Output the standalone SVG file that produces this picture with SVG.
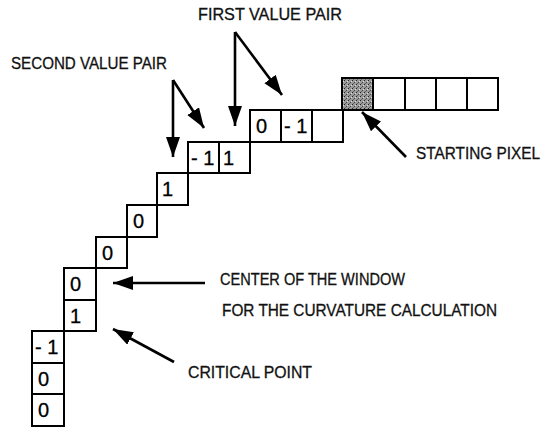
<svg xmlns="http://www.w3.org/2000/svg" width="546" height="429" viewBox="0 0 546 429">
<style>
.cell{fill:#fff;stroke:#000;stroke-width:2}
.shade{stroke:#000;stroke-width:2}
.num{font-family:"Liberation Sans",Arial,sans-serif;font-size:20px;fill:#000;stroke:#000;stroke-width:0.3}
.lbl{font-family:"Liberation Sans",Arial,sans-serif;font-size:16px;fill:#111;stroke:#111;stroke-width:0.3}
.arr{stroke:#000;stroke-width:2.6;fill:none;marker-end:url(#ah)}
</style>
<defs>
<marker id="ah" markerUnits="userSpaceOnUse" markerWidth="22" markerHeight="16" refX="20" refY="7" orient="auto">
<path d="M0,0 L20,7 L0,14 z" fill="#000"/>
</marker>
<pattern id="dots" width="4" height="4" patternUnits="userSpaceOnUse">
<rect width="4" height="4" fill="#9a9a9a"/>
<rect x="0" y="0" width="1" height="1" fill="#222"/>
<rect x="2" y="2" width="1" height="1" fill="#444"/>
<rect x="3" y="1" width="1" height="1" fill="#ddd"/>
<rect x="1" y="3" width="1" height="1" fill="#666"/>
</pattern>
</defs>
<g id="start-row">
<rect class="shade" x="342" y="78" width="31" height="32" fill="url(#dots)"/>
<rect class="cell" x="373" y="78" width="32" height="32"/>
<rect class="cell" x="405" y="78" width="31" height="32"/>
<rect class="cell" x="436" y="78" width="31" height="32"/>
<rect class="cell" x="467" y="78" width="31" height="32"/>
</g>
<g id="row1">
<rect class="cell" x="250" y="110" width="31" height="32"/>
<rect class="cell" x="281" y="110" width="31" height="32"/>
<rect class="cell" x="312" y="110" width="31" height="32"/>
<text class="num" x="256" y="133">0</text>
<text class="num" x="284" y="133" xml:space="preserve">- 1</text>
</g>
<g id="row2">
<rect class="cell" x="188" y="142" width="31" height="31"/>
<rect class="cell" x="219" y="142" width="31" height="31"/>
<text class="num" x="191" y="165" xml:space="preserve">- 1</text>
<text class="num" x="223" y="165">1</text>
</g>
<g id="cell-r3">
<rect class="cell" x="157" y="173" width="31" height="32"/>
<text class="num" x="162" y="196">1</text>
</g>
<g id="cell-r4">
<rect class="cell" x="127" y="205" width="30" height="32"/>
<text class="num" x="133" y="228">0</text>
</g>
<g id="cell-r5">
<rect class="cell" x="96" y="237" width="31" height="31"/>
<text class="num" x="102" y="260">0</text>
</g>
<g id="cell-center">
<rect class="cell" x="64" y="268" width="32" height="32"/>
<text class="num" x="70" y="291">0</text>
</g>
<g id="cell-critical">
<rect class="cell" x="64" y="300" width="32" height="31"/>
<text class="num" x="70" y="323">1</text>
</g>
<g id="cell-r8">
<rect class="cell" x="32" y="331" width="32" height="32"/>
<text class="num" x="35" y="354" xml:space="preserve">- 1</text>
</g>
<g id="cell-r9">
<rect class="cell" x="32" y="363" width="32" height="31"/>
<text class="num" x="38" y="386">0</text>
</g>
<g id="cell-r10">
<rect class="cell" x="32" y="394" width="32" height="32"/>
<text class="num" x="38" y="417">0</text>
</g>
<g id="connectors">
<path class="arr" d="M173,80 L173,157"/>
<path class="arr" d="M173,80 L204,128"/>
<path class="arr" d="M235,32 L235,126"/>
<path class="arr" d="M235,32 L282,95"/>
<path class="arr" d="M406,157 L362,112"/>
<path class="arr" d="M205,283 L113,283"/>
<path class="arr" d="M174,362 L113,329"/>
</g>
<g id="labels">
<text class="lbl" x="198" y="20" textLength="144" lengthAdjust="spacingAndGlyphs">FIRST VALUE PAIR</text>
<text class="lbl" x="11" y="69" textLength="156" lengthAdjust="spacingAndGlyphs">SECOND VALUE PAIR</text>
<text class="lbl" x="416" y="159" textLength="124" lengthAdjust="spacingAndGlyphs">STARTING PIXEL</text>
<text class="lbl" x="220" y="285" textLength="185" lengthAdjust="spacingAndGlyphs">CENTER OF THE WINDOW</text>
<text class="lbl" x="222" y="316" textLength="275" lengthAdjust="spacingAndGlyphs">FOR THE CURVATURE CALCULATION</text>
<text class="lbl" x="188" y="378" textLength="124" lengthAdjust="spacingAndGlyphs">CRITICAL POINT</text>
</g>
</svg>
